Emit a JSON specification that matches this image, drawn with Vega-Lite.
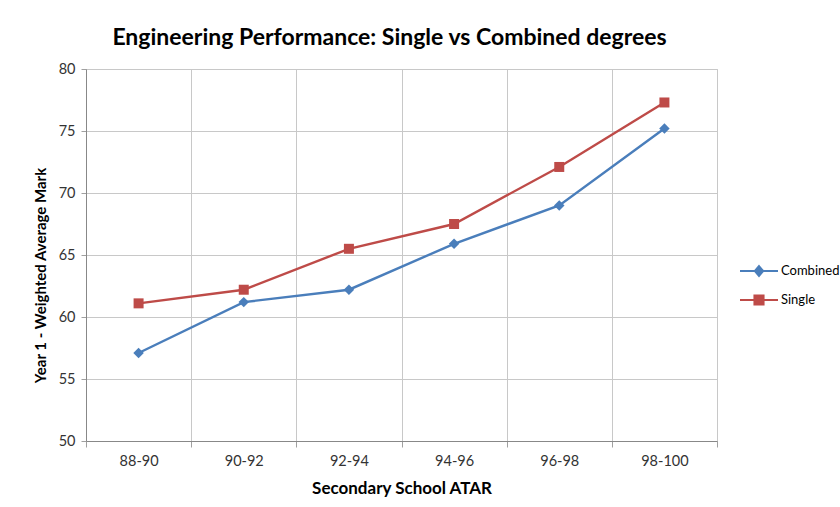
{
  "$schema": "https://vega.github.io/schema/vega-lite/v6.json",
  "autosize": "none",
  "width": 631,
  "height": 372,
  "padding": {"left": 86, "top": 69, "right": 123, "bottom": 66},
  "background": "white",
  "config": {
    "font": "Lato",
    "view": {"stroke": "#c8c8c8", "strokeWidth": 1}
  },
  "title": {
    "text": "Engineering Performance: Single vs Combined degrees",
    "font": "Lato",
    "fontSize": 23,
    "fontWeight": "bold",
    "color": "#000000",
    "anchor": "middle",
    "dx": -12,
    "offset": 11
  },
  "data": {
    "values": [
      {"atar": "88-90", "series": "Combined", "mark": 57.1},
      {"atar": "90-92", "series": "Combined", "mark": 61.2},
      {"atar": "92-94", "series": "Combined", "mark": 62.2},
      {"atar": "94-96", "series": "Combined", "mark": 65.9},
      {"atar": "96-98", "series": "Combined", "mark": 69.0},
      {"atar": "98-100", "series": "Combined", "mark": 75.2},
      {"atar": "88-90", "series": "Single", "mark": 61.1},
      {"atar": "90-92", "series": "Single", "mark": 62.2},
      {"atar": "92-94", "series": "Single", "mark": 65.5},
      {"atar": "94-96", "series": "Single", "mark": 67.5},
      {"atar": "96-98", "series": "Single", "mark": 72.1},
      {"atar": "98-100", "series": "Single", "mark": 77.3}
    ]
  },
  "encoding": {
    "x": {
      "field": "atar",
      "type": "nominal",
      "sort": null,
      "scale": {"type": "band", "paddingInner": 0, "paddingOuter": 0},
      "axis": {
        "title": "Secondary School ATAR",
        "titleFont": "Lato",
        "titleFontSize": 17,
        "titleFontWeight": "bold",
        "titleColor": "#000000",
        "titlePadding": 13,
        "labelAngle": 0,
        "labelFont": "Lato",
        "labelFontSize": 14.5,
        "labelColor": "#333333",
        "labelPadding": 7,
        "tickBand": "extent",
        "tickSize": 6,
        "tickColor": "#a0a0a0",
        "domainColor": "#888888",
        "grid": true,
        "gridColor": "#c8c8c8",
        "gridWidth": 1
      }
    },
    "y": {
      "field": "mark",
      "type": "quantitative",
      "scale": {"domain": [50, 80], "nice": false, "zero": false},
      "axis": {
        "title": "Year 1 - Weighted Average Mark",
        "titleFont": "Lato",
        "titleFontSize": 15,
        "titleFontWeight": "bold",
        "titleColor": "#000000",
        "titlePadding": 10,
        "titleY": 206,
        "titleAlign": "center",
        "values": [50, 55, 60, 65, 70, 75, 80],
        "labelFont": "Lato",
        "labelFontSize": 14.5,
        "labelColor": "#333333",
        "labelPadding": 6,
        "tickSize": 5,
        "tickColor": "#a0a0a0",
        "domainColor": "#888888",
        "grid": true,
        "gridColor": "#c8c8c8",
        "gridWidth": 1
      }
    },
    "color": {
      "field": "series",
      "type": "nominal",
      "scale": {"domain": ["Combined", "Single"], "range": ["#4A7EBB", "#BE4B48"]},
      "legend": {
        "title": null,
        "orient": "none",
        "legendX": 653,
        "legendY": 182,
        "labelFont": "Lato",
        "labelFontSize": 13,
        "labelColor": "#000000",
        "labelOffset": 2,
        "rowPadding": -11,
        "symbolSize": 1444,
        "symbolStrokeWidth": 2,
        "encode": {
          "symbols": {
            "update": {
              "shape": {"signal": "datum.value == 'Combined' ? 'M-1,0H1M0,-0.26L0.22,0L0,0.26L-0.22,0Z' : 'M-1,0H1M-0.24,-0.24H0.24V0.24H-0.24Z'"},
              "size": {"value": 1444},
              "fill": {"signal": "datum.value == 'Combined' ? '#4A7EBB' : '#BE4B48'"},
              "stroke": {"signal": "datum.value == 'Combined' ? '#4A7EBB' : '#BE4B48'"},
              "strokeWidth": {"value": 2},
              "opacity": {"value": 1}
            }
          }
        }
      }
    }
  },
  "layer": [
    {
      "mark": {"type": "line", "strokeWidth": 2.4}
    },
    {
      "mark": {"type": "point", "filled": true, "opacity": 1},
      "encoding": {
        "shape": {
          "condition": {"test": "datum.series == 'Combined'", "value": "diamond"},
          "value": "square"
        },
        "size": {
          "condition": {"test": "datum.series == 'Combined'", "value": 110},
          "value": 100
        }
      }
    }
  ]
}
